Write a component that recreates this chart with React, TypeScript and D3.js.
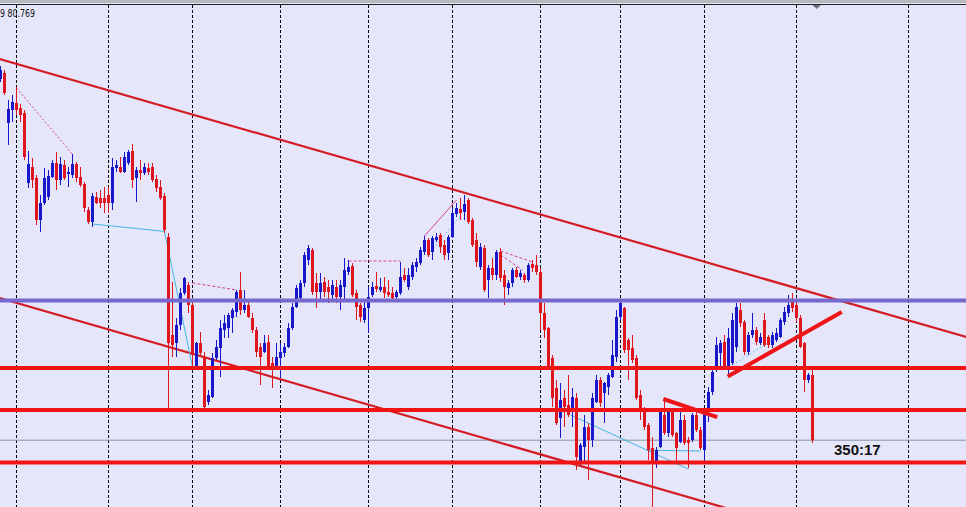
import * as d3 from "d3"

// OHLC per bar: [open, high, low, close]
const candles: [number, number, number, number][] = [
  [82.575, 82.64, 82.56, 82.62],
  [82.605, 82.62, 82.495, 82.505],
  [82.355, 82.47, 82.245, 82.425],
  [82.42, 82.495, 82.36, 82.46],
  [82.455, 82.535, 82.395, 82.42],
  [82.43, 82.45, 82.36, 82.395],
  [82.405, 82.42, 82.17, 82.185],
  [82.055, 82.215, 82.03, 82.15],
  [82.135, 82.18, 82.03, 82.07],
  [82.08, 82.095, 81.845, 81.87],
  [81.87, 81.995, 81.81, 81.955],
  [81.955, 82.13, 81.945, 82.08],
  [81.985, 82.12, 81.97, 82.09],
  [82.085, 82.17, 82.08, 82.155],
  [82.155, 82.21, 82.02, 82.07],
  [82.07, 82.185, 82.045, 82.15],
  [82.145, 82.17, 82.07, 82.08],
  [82.1, 82.135, 82.035, 82.11],
  [82.095, 82.2, 82.08, 82.15],
  [82.15, 82.16, 82.06, 82.08],
  [82.085, 82.135, 82.035, 82.045],
  [82.05, 82.06, 81.91, 81.93],
  [81.92, 81.935, 81.85, 81.86],
  [81.86, 82.005, 81.835, 81.99],
  [81.985, 82.01, 81.95, 81.955],
  [81.98, 82.02, 81.93, 81.955],
  [81.98, 82.035, 81.905, 81.955],
  [81.995, 82.035, 81.905, 81.955],
  [81.955, 82.18, 81.92, 82.135],
  [82.13, 82.17, 82.11, 82.145],
  [82.135, 82.185, 82.105, 82.11],
  [82.11, 82.21, 82.105, 82.185],
  [82.155, 82.22, 82.145, 82.21],
  [82.215, 82.25, 82.03, 82.07],
  [82.08, 82.135, 81.96, 82.12],
  [82.12, 82.17, 82.07, 82.105],
  [82.105, 82.155, 82.095, 82.135],
  [82.13, 82.155, 82.095, 82.11],
  [82.135, 82.155, 82.06, 82.07],
  [82.075, 82.095, 82.01, 82.03],
  [82.035, 82.07, 81.97, 81.98],
  [81.99, 82.005, 81.805, 81.82],
  [81.785, 81.805, 80.93, 81.255],
  [81.295, 81.56, 81.185, 81.245],
  [81.255, 81.38, 81.185, 81.345],
  [81.345, 81.53, 81.32, 81.505],
  [81.505, 81.585, 81.495, 81.58],
  [81.545, 81.56, 81.405, 81.445],
  [81.445, 81.47, 81.135, 81.195],
  [81.135, 81.26, 81.13, 81.255],
  [81.255, 81.31, 81.185, 81.205],
  [81.185, 81.21, 80.93, 80.935],
  [80.96, 81.02, 80.945, 80.995],
  [80.985, 81.205, 80.98, 81.18],
  [81.18, 81.27, 81.17, 81.235],
  [81.23, 81.37, 81.085, 81.33],
  [81.32, 81.395, 81.28, 81.355],
  [81.33, 81.405, 81.28, 81.395],
  [81.38, 81.43, 81.305, 81.42],
  [81.41, 81.52, 81.385, 81.51],
  [81.52, 81.61, 81.395, 81.42],
  [81.42, 81.52, 81.405, 81.445],
  [81.445, 81.47, 81.38, 81.385],
  [81.38, 81.405, 81.305, 81.32],
  [81.32, 81.335, 81.185, 81.21],
  [81.235, 81.255, 81.045, 81.185],
  [81.21, 81.295, 81.205, 81.255],
  [81.26, 81.295, 81.13, 81.135],
  [81.155, 81.185, 81.03, 81.13],
  [81.135, 81.255, 81.13, 81.185],
  [81.18, 81.255, 81.08, 81.21],
  [81.205, 81.255, 81.185, 81.235],
  [81.235, 81.355, 81.23, 81.33],
  [81.33, 81.455, 81.32, 81.435],
  [81.435, 81.545, 81.43, 81.53],
  [81.48, 81.57, 81.47, 81.555],
  [81.555, 81.71, 81.535, 81.695],
  [81.67, 81.745, 81.645, 81.73],
  [81.72, 81.73, 81.495, 81.51],
  [81.555, 81.605, 81.43, 81.51],
  [81.51, 81.605, 81.46, 81.555],
  [81.56, 81.585, 81.485, 81.51],
  [81.535, 81.57, 81.455, 81.51],
  [81.495, 81.57, 81.47, 81.545],
  [81.535, 81.57, 81.455, 81.485],
  [81.485, 81.57, 81.42, 81.545],
  [81.535, 81.68, 81.47, 81.62],
  [81.61, 81.67, 81.595, 81.635],
  [81.64, 81.655, 81.485, 81.495],
  [81.505, 81.52, 81.37, 81.435],
  [81.445, 81.455, 81.36, 81.385],
  [81.37, 81.47, 81.355, 81.43],
  [81.43, 81.535, 81.305, 81.485],
  [81.495, 81.56, 81.485, 81.535],
  [81.54, 81.61, 81.51, 81.525],
  [81.52, 81.58, 81.51, 81.535],
  [81.535, 81.585, 81.48, 81.505],
  [81.51, 81.57, 81.485, 81.495],
  [81.505, 81.535, 81.47, 81.48],
  [81.485, 81.52, 81.47, 81.51],
  [81.505, 81.66, 81.495, 81.585],
  [81.595, 81.63, 81.56, 81.57],
  [81.535, 81.63, 81.52, 81.595],
  [81.585, 81.66, 81.57, 81.645],
  [81.635, 81.68, 81.61, 81.66],
  [81.655, 81.735, 81.645, 81.72],
  [81.71, 81.79, 81.695, 81.77],
  [81.77, 81.78, 81.685, 81.695],
  [81.71, 81.79, 81.67, 81.78],
  [81.77, 81.805, 81.76, 81.785],
  [81.795, 81.805, 81.705, 81.735],
  [81.745, 81.77, 81.67, 81.695],
  [81.705, 81.795, 81.67, 81.785],
  [81.785, 81.93, 81.78, 81.905],
  [81.9, 81.955, 81.885, 81.93],
  [81.925, 81.98, 81.87, 81.905],
  [81.91, 81.995, 81.87, 81.95],
  [81.97, 81.98, 81.85, 81.86],
  [81.87, 81.88, 81.735, 81.745],
  [81.77, 81.805, 81.635, 81.66],
  [81.635, 81.755, 81.62, 81.735],
  [81.73, 81.745, 81.51, 81.52],
  [81.57, 81.645, 81.48, 81.63],
  [81.63, 81.68, 81.57, 81.595],
  [81.595, 81.72, 81.57, 81.71],
  [81.71, 81.73, 81.56, 81.58],
  [81.595, 81.62, 81.445, 81.535],
  [81.53, 81.57, 81.495, 81.555],
  [81.555, 81.63, 81.535, 81.62],
  [81.62, 81.635, 81.58, 81.585],
  [81.585, 81.62, 81.57, 81.605],
  [81.595, 81.605, 81.555, 81.57],
  [81.57, 81.655, 81.56, 81.645],
  [81.65, 81.67, 81.61, 81.63],
  [81.645, 81.695, 81.595, 81.61],
  [81.61, 81.63, 81.32, 81.405],
  [81.405, 81.455, 81.28, 81.32],
  [81.33, 81.335, 81.12, 81.13],
  [81.18, 81.195, 80.935, 80.98],
  [81.03, 81.07, 80.845, 80.855],
  [80.88, 81.055, 80.78, 80.97],
  [80.98, 81.02, 80.835, 80.935],
  [80.945, 81.095, 80.885, 80.895],
  [80.93, 81.03, 80.835, 80.985],
  [80.98, 81.005, 80.62, 80.685],
  [80.66, 80.755, 80.645, 80.745],
  [80.735, 80.895, 80.66, 80.835],
  [80.835, 80.855, 80.57, 80.77],
  [80.77, 81.005, 80.735, 80.98],
  [80.96, 81.095, 80.955, 81.07],
  [81.07, 81.085, 80.935, 80.955],
  [81.005, 81.06, 80.855, 81.055],
  [81.035, 81.105, 80.995, 81.095],
  [81.085, 81.27, 81.08, 81.195],
  [81.185, 81.42, 81.16, 81.385],
  [81.385, 81.46, 81.37, 81.455],
  [81.43, 81.435, 81.205, 81.22],
  [81.27, 81.28, 81.07, 81.22],
  [81.23, 81.295, 81.155, 81.17],
  [81.18, 81.195, 80.97, 80.98],
  [80.995, 81.02, 80.87, 80.92],
  [80.93, 80.935, 80.82, 80.835],
  [80.845, 80.855, 80.67, 80.72],
  [80.73, 80.785, 80.435, 80.655],
  [80.66, 80.735, 80.63, 80.72],
  [80.735, 80.93, 80.73, 80.91],
  [80.895, 80.98, 80.795, 80.805],
  [80.805, 80.93, 80.785, 80.91],
  [80.91, 80.93, 80.785, 80.795],
  [80.805, 80.81, 80.66, 80.73],
  [80.76, 80.91, 80.755, 80.87],
  [80.87, 80.895, 80.745, 80.755],
  [80.77, 80.785, 80.63, 80.755],
  [80.77, 80.905, 80.76, 80.895],
  [80.895, 80.91, 80.81, 80.82],
  [80.82, 80.835, 80.72, 80.73],
  [80.72, 80.93, 80.66, 80.92],
  [80.915, 81.035, 80.86, 81.01],
  [81.01, 81.14, 80.995, 81.11],
  [81.12, 81.285, 81.11, 81.245],
  [81.205, 81.27, 81.135, 81.255],
  [81.26, 81.295, 81.12, 81.13],
  [81.13, 81.33, 81.085, 81.28],
  [81.155, 81.405, 81.145, 81.37],
  [81.235, 81.455, 81.21, 81.435],
  [81.42, 81.455, 81.335, 81.355],
  [81.36, 81.37, 81.195, 81.21],
  [81.21, 81.31, 81.195, 81.295],
  [81.295, 81.405, 81.28, 81.32],
  [81.32, 81.335, 81.245, 81.26],
  [81.255, 81.305, 81.245, 81.285],
  [81.37, 81.405, 81.235, 81.245],
  [81.285, 81.295, 81.23, 81.245],
  [81.245, 81.31, 81.23, 81.295],
  [81.27, 81.33, 81.26, 81.305],
  [81.285, 81.38, 81.28, 81.37],
  [81.36, 81.435, 81.345, 81.41],
  [81.405, 81.495, 81.385, 81.445],
  [81.46, 81.505, 81.41, 81.43],
  [81.445, 81.47, 81.36, 81.38],
  [81.38, 81.395, 81.23, 81.235],
  [81.255, 81.26, 81.01, 81.07],
  [81.07, 81.105, 81.055, 81.095],
  [81.095, 81.12, 80.755, 80.769],
]

// period separators (bar index)
const separatorBars = [4, 27, 48, 70, 92, 113, 135, 155, 176, 199, 227]

const resistanceLevel = 81.468
const supportLevels = [81.13, 80.92, 80.658]
const bidPrice = 80.769

// trend lines as [bar, price] anchors
const channelLines: [number, number][][] = [
  [[-1, 82.679], [242, 81.282]],
  [[-1, 81.484], [185, 80.409]],
]
const shortTrendLines: [number, number][][] = [
  [[181.8, 81.087], [210.3, 81.41]],
  [[165.7, 80.975], [179.2, 80.884]],
]

// zigzag indicator segments
const zigzag: { color: string; dash: string | null; pts: [number, number][] }[] = [
  { color: "#d8409a", dash: "2,2", pts: [[4, 82.53], [18, 82.199]] },
  { color: "#40b8e0", dash: null, pts: [[23, 81.85], [41, 81.813], [48, 81.135]] },
  { color: "#d8409a", dash: "3,2", pts: [[48, 81.555], [59, 81.52]] },
  { color: "#d8409a", dash: "3,2", pts: [[87, 81.665], [100, 81.665]] },
  { color: "#d8409a", dash: null, pts: [[106, 81.79], [114, 81.97]] },
  { color: "#60c0f0", dash: "2,2", pts: [[107.5, 81.71], [115, 81.89]] },
  { color: "#d8409a", dash: "3,2", pts: [[125, 81.715], [133, 81.66]] },
  { color: "#d8409a", dash: "3,2", pts: [[125, 81.695], [130.5, 81.62]] },
  { color: "#40b8e0", dash: null, pts: [[142.5, 80.895], [172, 80.624]] },
  { color: "#40b8e0", dash: null, pts: [[161.5, 80.719], [175, 80.715]] },
  { color: "#60c0f0", dash: "2,2", pts: [[183, 81.145], [193, 81.27]] },
]

const headerText = "9 80.769"
const timerText = "350:17"

const W = 966
const H = 507
const BULL = "#1818c8"
const BEAR = "#e0161e"

export default function App() {
  const x = d3.scaleLinear().domain([0, 241]).range([0.5, 964.5])
  const y = d3.scaleLinear().domain([80.435, 82.97]).range([H, 0])
  const line = d3
    .line<[number, number]>()
    .x((d) => x(d[0]))
    .y((d) => y(d[1]))

  return (
    <svg
      width={W}
      height={H}
      style={{ position: "absolute", left: 0, top: 0, display: "block" }}
      fontFamily="'Liberation Sans', Arial, sans-serif"
    >
      <rect width={W} height={H} fill="#e6e6fa" />
      <rect width={W} height={3} fill="#b8b8c0" />
      <line x1={0} x2={W} y1={4.5} y2={4.5} stroke="#202020" strokeWidth={1} />

      {separatorBars.map((b) => (
        <line
          key={b}
          x1={Math.floor(x(b)) + 0.5}
          x2={Math.floor(x(b)) + 0.5}
          y1={5}
          y2={H}
          stroke="#000"
          strokeWidth={1}
          strokeDasharray="3,2"
          shapeRendering="crispEdges"
        />
      ))}

      <line x1={0} x2={W} y1={y(bidPrice)} y2={y(bidPrice)} stroke="#8a94a6" strokeWidth={1} />

      {channelLines.map((l, i) => (
        <path key={i} d={line(l) || ""} fill="none" stroke="#d41c24" strokeWidth={2.2} />
      ))}

      {zigzag.map((z, i) => (
        <path
          key={i}
          d={line(z.pts) || ""}
          fill="none"
          stroke={z.color}
          strokeWidth={1}
          strokeDasharray={z.dash || undefined}
        />
      ))}

      {candles.map(([o, h, l, c], i) => {
        const cx = x(i)
        const col = c >= o ? BULL : BEAR
        const top = y(Math.max(o, c))
        const bot = y(Math.min(o, c))
        return (
          <g key={i}>
            <line x1={cx} x2={cx} y1={y(h)} y2={y(l)} stroke={col} strokeWidth={1} />
            <rect x={cx - 1.5} y={top} width={3} height={Math.max(1, bot - top)} fill={col} />
          </g>
        )
      })}

      <line
        x1={0}
        x2={W}
        y1={y(resistanceLevel)}
        y2={y(resistanceLevel)}
        stroke="#7668cc"
        strokeWidth={4}
      />
      {supportLevels.map((p) => (
        <line key={p} x1={0} x2={W} y1={y(p)} y2={y(p)} stroke="#f01414" strokeWidth={4} />
      ))}
      {shortTrendLines.map((l, i) => (
        <path key={i} d={line(l) || ""} fill="none" stroke="#ee1418" strokeWidth={4} />
      ))}

      <path d="M812.5,5 L821,5 L816.7,9 Z" fill="#6a7280" />

      <text
        x={0}
        y={17}
        fontSize={10}
        fontFamily="'DejaVu Sans', sans-serif"
        fill="#111"
        textLength={35}
        lengthAdjust="spacingAndGlyphs"
      >
        {headerText}
      </text>
      <text x={834} y={454.5} fontSize={15} fontWeight="bold" fill="#111">
        {timerText}
      </text>
    </svg>
  )
}
